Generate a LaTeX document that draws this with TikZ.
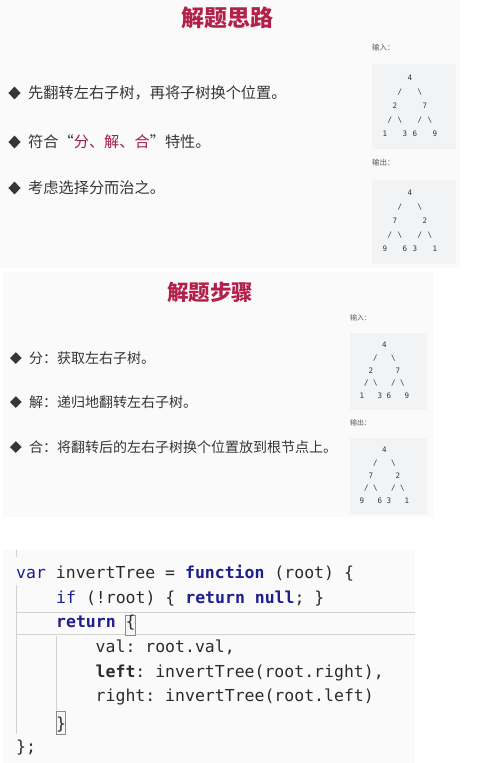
\documentclass[tikz,border=0pt]{standalone}
\usepackage{fontspec}
\setmainfont{Noto Sans CJK SC}
\newfontfamily\cjk{Noto Sans CJK SC}
\newfontfamily\codefont{DejaVu Sans Mono}
\definecolor{panelbg}{HTML}{FAFAFA}
\definecolor{boxbg}{HTML}{F2F3F5}
\definecolor{titlec}{HTML}{B3214B}
\definecolor{txt}{HTML}{363636}
\definecolor{accent}{HTML}{A01F40}
\definecolor{kw}{HTML}{1E1E8C}
\definecolor{codetxt}{HTML}{2B2B2B}
\definecolor{guide}{HTML}{D2D2D2}
\frenchspacing
\newcommand\mktree[6]{%
  \foreach \d [count=\k] in {#6} {
    \pgfmathsetmacro\cc{{5,2,8,0,4,6,10}[\k-1]}
    \pgfmathsetmacro\rr{{0,2,2,4,4,4,4}[\k-1]}
    \node[treech] (#5d\k) at ({#1+\cc*#3},{#2+\rr*#4}) {\d};
  }
  \node[treech] (#5s1) at ({#1+3*#3},{#2+#4}) {/};
  \node[treech] (#5s2) at ({#1+7*#3},{#2+#4}) {\textbackslash};
  \node[treech] (#5s3) at ({#1+1*#3},{#2+3*#4}) {/};
  \node[treech] (#5s4) at ({#1+3*#3},{#2+3*#4}) {\textbackslash};
  \node[treech] (#5s5) at ({#1+7*#3},{#2+3*#4}) {/};
  \node[treech] (#5s6) at ({#1+9*#3},{#2+3*#4}) {\textbackslash};
}
\begin{document}
\begin{tikzpicture}[x=1pt,y=-1pt,
  panel/.style={fill=panelbg,draw=none},
  treebox/.style={fill=boxbg,draw=none},
  titlestyle/.style={font=\cjk\bfseries\fontsize{#1}{#1}\selectfont,text=titlec,inner sep=0},
  bullettext/.style={font=\cjk\fontsize{#1}{#1}\selectfont,text=txt,inner sep=0,anchor=west},
  iolabel/.style={font=\cjk\fontsize{#1}{#1}\selectfont,text=black!65,inner sep=0,anchor=west},
  treech/.style={font=\codefont\fontsize{7.5}{7.5}\selectfont,text=black!80,inner sep=0},
  codeline/.style={font=\codefont\fontsize{16.5}{16.5}\selectfont\frenchspacing,text=codetxt,inner sep=0,anchor=base west},
  bracebox/.style={draw=black!45,line width=0.6pt,fill=black!4},
  guideline/.style={draw=guide,line width=0.9pt}
]
\useasboundingbox (0,0) rectangle (477,763);
\fill[white] (0,0) rectangle (477,763);

% ---------- panel 1 ----------
\path[panel] (0,0) rectangle (460,268);
\node[titlestyle=23] (t1) at (227,18) {解题思路};

\foreach \yy in {93,142,188}
  \fill[txt] (8.3,\yy) -- (14.5,\yy-6.3) -- (20.7,\yy) -- (14.5,\yy+6.3) -- cycle;
\node[bullettext=15.2] (b1) at (28,93) {先翻转左右子树，再将子树换个位置。};
\node[bullettext=15.2] (b2) at (28,142) {符合“\textcolor{accent}{分、解、合}”特性。};
\node[bullettext=15.2] (b3) at (28,188) {考虑选择分而治之。};

\node[iolabel=7.5] (in1) at (372,48) {输入：};
\path[treebox] (372,64) rectangle (456,149);
\mktree{385}{78}{5}{14}{ta}{4,2,7,1,3,6,9}
\node[iolabel=7.5] (out1) at (372,163) {输出：};
\path[treebox] (372,180) rectangle (456,264);
\mktree{385}{193}{5}{14}{tb}{4,7,2,9,6,3,1}

% ---------- panel 2 ----------
\path[panel] (3,272) rectangle (433,517);
\node[titlestyle=21.5] (t2) at (210,292) {解题步骤};

\foreach \yy in {358,402,447}
  \fill[txt] (10,\yy) -- (15.8,\yy-5.8) -- (21.6,\yy) -- (15.8,\yy+5.8) -- cycle;
\node[bullettext=14] (c1) at (29,358) {分：获取左右子树。};
\node[bullettext=14] (c2) at (29,402) {解：递归地翻转左右子树。};
\node[bullettext=14] (c3) at (29,447) {合：将翻转后的左右子树换个位置放到根节点上。};

\node[iolabel=7] (in2) at (350,318) {输入：};
\path[treebox] (350,333) rectangle (427,410);
\mktree{362}{345}{4.5}{12.75}{tc}{4,2,7,1,3,6,9}
\node[iolabel=7] (out2) at (350,423) {输出：};
\path[treebox] (350,438) rectangle (427,514);
\mktree{362}{450}{4.5}{12.75}{td}{4,7,2,9,6,3,1}

% ---------- code panel ----------
\path[panel] (3,550) rectangle (415,763);
\draw[guideline] (16,550) -- (16,557);
\draw[guideline] (16,585) -- (16,734);
\draw[guideline] (56,636) -- (56,712);
\draw[guideline] (17,612) -- (415,612);
\draw[guideline] (17,634) -- (415,634);
\path[bracebox] (125.5,615) rectangle (135,635);
\path[bracebox] (56,711) rectangle (65.5,734);

\node[codeline] (l1) at (16,578) {\textcolor{kw}{var} invertTree = \textcolor{kw}{\bfseries function} (root) \{};
\node[codeline] (l2) at (56,603) {\textcolor{kw}{if} (!root) \{ \textcolor{kw}{\bfseries return null}; \}};
\node[codeline] (l3) at (56,627) {\textcolor{kw}{\bfseries return} \{};
\node[codeline] (l4) at (95.5,652) {val: root.val,};
\node[codeline] (l5) at (95.5,677) {\textbf{left}: invertTree(root.right),};
\node[codeline] (l6) at (95.5,701) {right: invertTree(root.left)};
\node[codeline] (l7) at (56,729) {\}};
\node[codeline] (l8) at (16,752) {\};};
\end{tikzpicture}
\end{document}
